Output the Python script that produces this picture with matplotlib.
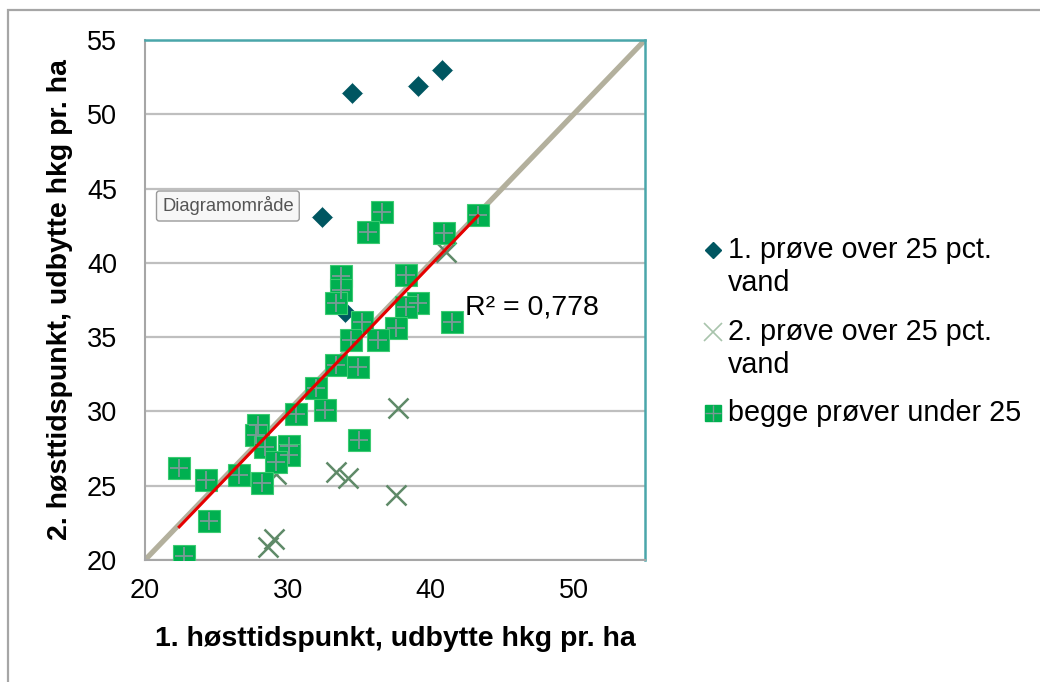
import numpy as np
import matplotlib
matplotlib.use("Agg")
import matplotlib.pyplot as plt
from matplotlib.patches import Rectangle

plt.rcParams['font.family'] = ['Liberation Sans', 'DejaVu Sans']

# ---- data ----
s1_label = "1. prøve over 25 pct.\nvand"
s1_x = [32.4, 34.5, 34.0, 39.1, 40.8]
s1_y = [43.1, 51.4, 36.7, 51.9, 53.0]

s2_label = "2. prøve over 25 pct.\nvand"
s2_x = [37.7, 33.4, 34.2, 37.6, 28.6, 29.0, 29.2, 41.1]
s2_y = [30.2, 25.9, 25.5, 24.4, 20.9, 21.4, 25.8, 40.7]

s3_label = "begge prøver under 25"
s3_x = [36.6, 35.6, 43.3, 40.9, 33.7, 33.7, 33.4, 38.3, 39.1, 38.3, 37.6, 41.5,
        35.2, 34.4, 36.3, 33.4, 34.9, 32.0, 32.6, 30.6, 27.9, 27.8, 28.4, 30.1,
        30.1, 29.2, 26.6, 28.2, 24.3, 22.4, 24.5, 22.7, 35.0]
s3_y = [43.4, 42.1, 43.2, 42.0, 39.1, 38.2, 37.3, 39.2, 37.3, 37.0, 35.6, 36.0,
        36.0, 34.8, 34.8, 33.1, 33.0, 31.6, 30.1, 29.8, 29.1, 28.4, 27.6, 27.7,
        27.1, 26.6, 25.7, 25.2, 25.4, 26.2, 22.6, 20.3, 28.1]

r2_text = "R² = 0,778"
x_ticks = [20, 30, 40, 50]
y_ticks = [20, 25, 30, 35, 40, 45, 50, 55]
x_label = "1. høsttidspunkt, udbytte hkg pr. ha"
y_label = "2. høsttidspunkt, udbytte hkg pr. ha"
diag = [20, 55]

# ---- colours ----
c_dia = "#005661"
c_x = "#5F8A68"
c_sq = "#00B050"
c_sq_edge = "#3CCB72"
c_plus = "#7A9A96"
c_grid = "#BFBFBF"
c_teal = "#4AA6AA"

W, H = 1040, 682
fig = plt.figure(figsize=(W / 100, H / 100), dpi=100)
ax = fig.add_axes([145 / W, 1 - 560 / H, 500 / W, 520 / H])

ax.set_xlim(20, 55)
ax.set_ylim(20, 55)
ax.set_xticks(x_ticks)
ax.set_yticks(y_ticks)
ax.yaxis.grid(True, color=c_grid, lw=1.6)
ax.set_axisbelow(True)
ax.tick_params(length=0, labelsize=19.5)
ax.tick_params(axis='y', pad=20)
ax.tick_params(axis='x', pad=13)
for s in ['left', 'bottom']:
    ax.spines[s].set_color('#A6A6A6')
    ax.spines[s].set_linewidth(1.5)
for s in ['top', 'right']:
    ax.spines[s].set_color(c_teal)
    ax.spines[s].set_linewidth(1.8)

# 1:1 line
ax.plot(diag, diag, color="#B3B09D", lw=3.8, solid_capstyle='round', zorder=2)

# series 1: diamonds
ax.plot(s1_x, s1_y, ls='none', marker='D', ms=11, color=c_dia, mec='white', mew=0.6, zorder=3)
# series 2: crosses
ax.plot(s2_x, s2_y, ls='none', marker='x', ms=15, color=c_x, mew=1.8, zorder=3)
# series 3: squares with plus
ax.plot(s3_x, s3_y, ls='none', marker='s', ms=16, color=c_sq, mec=c_sq_edge, mew=0.8, zorder=4)
ax.plot(s3_x, s3_y, ls='none', marker='+', ms=13.5, color=c_plus, mew=1.3, zorder=5)

# trendline for series 3
k, m = np.polyfit(s3_x, s3_y, 1)
xt = np.array([min(s3_x), max(s3_x)])
ax.plot(xt, k * xt + m, color="#E60000", lw=2.2, zorder=6)
ax.text(42.4, 37.0, r2_text, fontsize=20.5, va='center', ha='left', zorder=7)

ax.set_xlabel(x_label, fontsize=20.5, fontweight='bold', labelpad=16)
ax.set_ylabel(y_label, fontsize=20.5, fontweight='bold', labelpad=10)

# legend (manual)
leg_items = [(s1_label, 'D', 250), (s2_label, 'x', 332), (s3_label, 's', 413)]
for lab, mk, py in leg_items:
    fy = 1 - py / H
    first, *rest = lab.split("\n")
    fig.text(728 / W, fy, first, fontsize=20.7, va='center', ha='left')
    if rest:
        fig.text(728 / W, fy - 33 / H, rest[0], fontsize=20.7, va='center', ha='left')
    mx = 713 / W
    if mk == 'D':
        fig.lines.append(plt.Line2D([mx], [fy], marker='D', ms=8, color=c_dia, ls='none',
                                    transform=fig.transFigure))
    elif mk == 'x':
        fig.lines.append(plt.Line2D([mx], [fy], marker='x', ms=13, color="#A8C4AC", mew=1.2,
                                    ls='none', transform=fig.transFigure))
    else:
        fig.lines.append(plt.Line2D([mx], [fy], marker='s', ms=12, color=c_sq, ls='none',
                                    mec=c_sq, transform=fig.transFigure))
        fig.lines.append(plt.Line2D([mx], [fy], marker='+', ms=12, color=c_plus, mew=1.0,
                                    ls='none', transform=fig.transFigure))

# tooltip
fig.text(162 / W, 1 - 206 / H, "Diagramområde", fontsize=13.2, color="#555555",
         va='center', ha='left',
         bbox=dict(boxstyle='round,pad=0.3,rounding_size=0.15', fc='#F7F7F7', ec='#9A9A9A', lw=1.0))

# outer frame
fig.patches.append(Rectangle((8 / W, -0.1), 1.2, 1 - 10 / H + 0.1, transform=fig.transFigure,
                             fill=False, ec='#A6A6A6', lw=1.6))

fig.savefig("out.png", dpi=100)
